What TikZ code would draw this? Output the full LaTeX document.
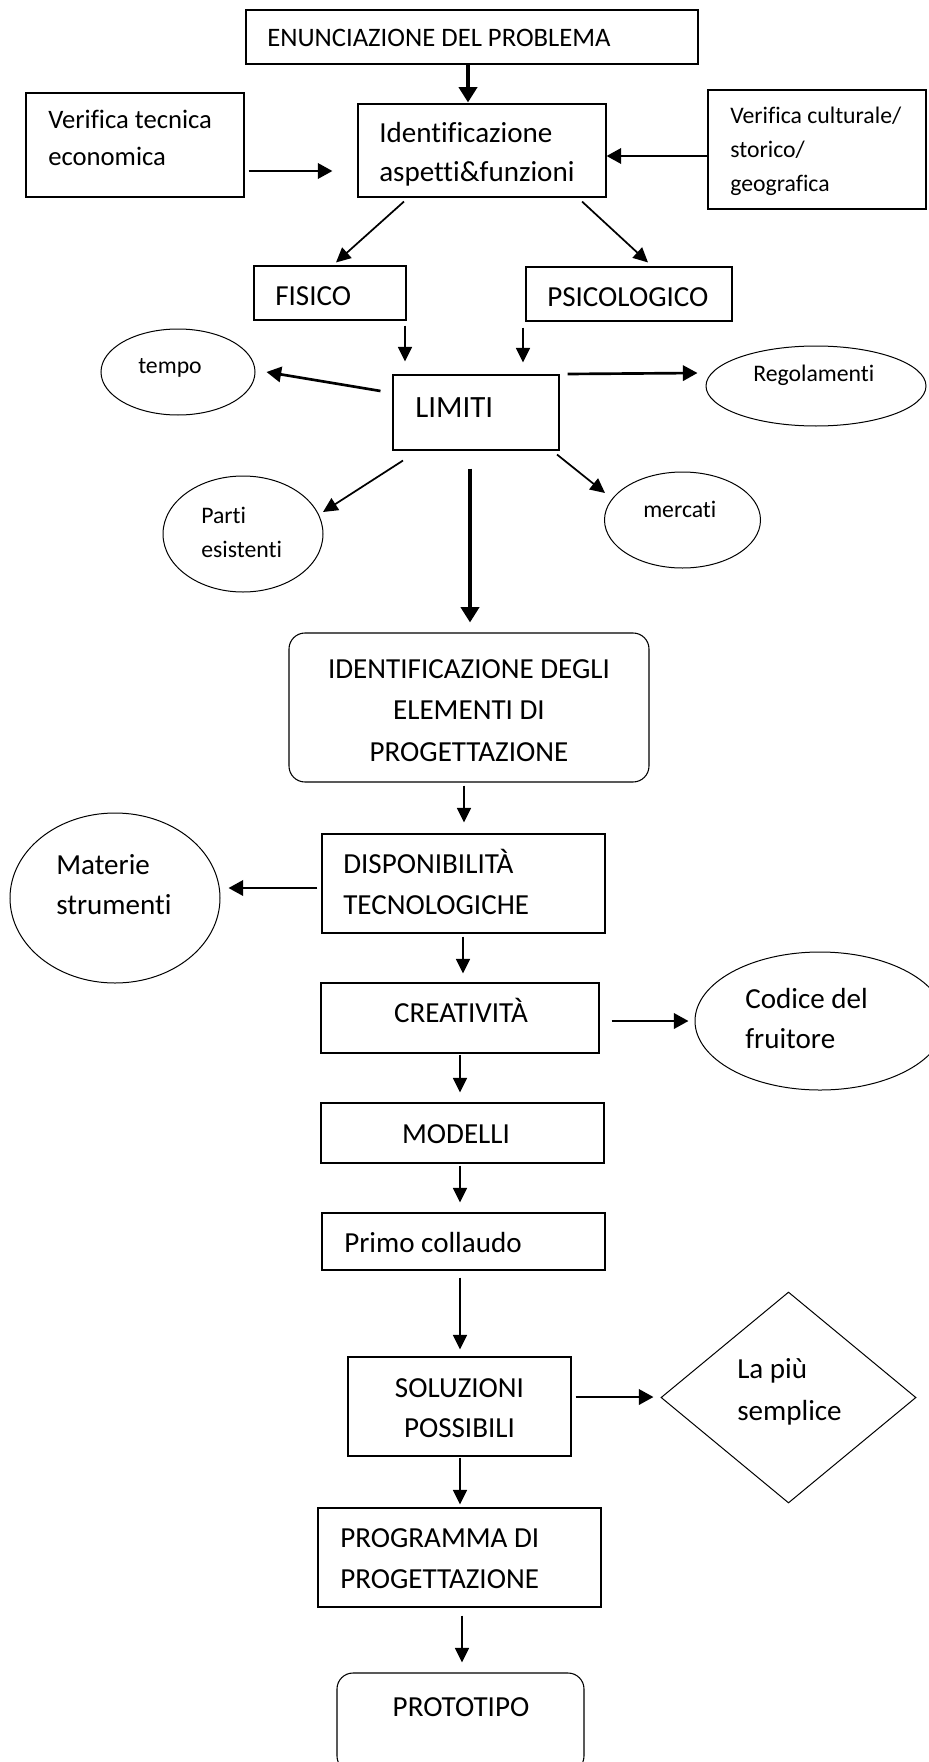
\documentclass[tikz,border=0pt]{standalone}
\usepackage{fontspec}
\setmainfont{Carlito}[Ligatures=NoCommon]
\usetikzlibrary{arrows.meta,shapes.geometric,calc}
\tikzset{
  sz/.style 2 args={minimum width=#1*0.75pt, minimum height=#2*0.75pt},
  boxline/.style={draw=black, line width=0.8pt, inner sep=0pt, rectangle},
  roundbox/.style={boxline, rounded corners=12pt},
  oval/.style={draw=black, line width=0.75pt, inner sep=0pt, ellipse},
  rhombus/.style={draw=black, line width=0.75pt, inner sep=0pt, diamond},
  txt/.style={inner sep=0pt, anchor=base west},
  ctxt/.style={inner sep=0pt, anchor=base},
  fA/.style={font=\fontsize{21.8pt}{26pt}\selectfont},
  fB/.style={font=\fontsize{20pt}{24pt}\selectfont},
  fC/.style={font=\fontsize{17.8pt}{21pt}\selectfont},
  fD/.style={font=\fontsize{23.2pt}{28pt}\selectfont},
  arrA/.style={line width=1.3pt, -{Triangle[length=11pt,width=10.5pt]}},
  arrB/.style={line width=2pt, -{Triangle[length=11pt,width=11.5pt]}},
  arrC/.style={line width=3.4pt, -{Triangle[length=11.5pt,width=13.5pt]}},
}
\begin{document}
\begin{tikzpicture}[x=0.75pt,y=-0.75pt]
\path[fill=white] (0,0) rectangle (928,1762);
\useasboundingbox (0,0) rectangle (928,1762);

% ---- boxes ----
\node[boxline, sz={452}{54}]  (enun)  at (472,37) {};
\node[boxline, sz={218}{104}] (vt)    at (135,145) {};
\node[boxline, sz={248}{93}]  (idf)   at (482,150.5) {};
\node[boxline, sz={218}{119}] (vc)    at (817,149.5) {};
\node[boxline, sz={152}{54}]  (fis)   at (330,293) {};
\node[boxline, sz={206}{54}]  (psi)   at (629,294) {};
\node[boxline, sz={166}{75}]  (lim)   at (476,412.5) {};
\node[oval,    sz={154}{86}]  (tempo) at (178,372) {};
\node[oval,    sz={220}{80}]  (reg)   at (816,386) {};
\node[oval,    sz={160}{116}] (parti) at (243,534) {};
\node[oval,    sz={156}{96}]  (merc)  at (682.5,520) {};
\node[roundbox,sz={360}{149}] (idg)   at (469,707.5) {};
\node[boxline, sz={283}{99}]  (disp)  at (463.5,883.5) {};
\node[oval,    sz={210}{170}] (mat)   at (115,898) {};
\node[boxline, sz={278}{70}]  (crea)  at (460,1018) {};
\node[oval,    sz={250}{138}] (cod)   at (820,1021) {};
\node[boxline, sz={283}{60}]  (mod)   at (462.5,1133) {};
\node[boxline, sz={283}{57}]  (primo) at (463.5,1241.5) {};
\node[boxline, sz={223}{99}]  (sol)   at (459.5,1406.5) {};
\node[rhombus, sz={255}{211}] (lapiu) at (788.5,1397.5) {};
\node[boxline, sz={283}{99}]  (prog)  at (459.5,1557.5) {};
\node[roundbox,sz={247}{99}]  (proto) at (460.5,1722.5) {};

% ---- texts ----
\node[txt,fB] (tenun) at (267,47) {ENUNCIAZIONE DEL PROBLEMA};
\node[txt,fB] (tvt1) at (48,129) {Verifica tecnica};
\node[txt,fB] (tvt2) at (48,166) {economica};
\node[txt,fA] (tidf1) at (379,143) {Identificazione};
\node[txt,fA] (tidf2) at (379,182) {aspetti\&funzioni};
\node[txt,fC] (tvc1) at (730,124) {Verifica culturale/};
\node[txt,fC] (tvc2) at (730,158) {storico/};
\node[txt,fC] (tvc3) at (730,192) {geografica};
\node[txt,fA] (tfis) at (275,305) {FISICO};
\node[txt,fA] (tpsi) at (547,306) {PSICOLOGICO};
\node[txt,fC] (ttempo) at (138,373) {tempo};
\node[txt,fC] (treg) at (753,381) {Regolamenti};
\node[txt,fD] (tlim) at (415,417) {LIMITI};
\node[txt,fC] (tparti1) at (201,523) {Parti};
\node[txt,fC] (tparti2) at (201,557) {esistenti};
\node[txt,fC] (tmerc) at (643,517) {mercati};
\node[ctxt,fA] (tidg1) at (469,678) {IDENTIFICAZIONE DEGLI};
\node[ctxt,fA] (tidg2) at (469,719) {ELEMENTI DI};
\node[ctxt,fA] (tidg3) at (469,761) {PROGETTAZIONE};
\node[txt,fA] (tdisp1) at (343,873) {DISPONIBILITÀ};
\node[txt,fA] (tdisp2) at (343,914) {TECNOLOGICHE};
\node[txt,fA] (tmat1) at (56,874) {Materie};
\node[txt,fA] (tmat2) at (56,914) {strumenti};
\node[ctxt,fA] (tcrea) at (461,1022) {CREATIVITÀ};
\node[txt,fA] (tcod1) at (745,1008) {Codice del};
\node[txt,fA] (tcod2) at (745,1048) {fruitore};
\node[ctxt,fA] (tmod) at (456,1143) {MODELLI};
\node[txt,fA] (tprimo) at (344,1252) {Primo collaudo};
\node[ctxt,fA] (tsol1) at (459.5,1397) {SOLUZIONI};
\node[ctxt,fA] (tsol2) at (459.5,1437) {POSSIBILI};
\node[txt,fA] (tlapiu1) at (737,1378) {La più};
\node[txt,fA] (tlapiu2) at (737,1420) {semplice};
\node[txt,fA] (tprog1) at (340,1547) {PROGRAMMA DI};
\node[txt,fA] (tprog2) at (340,1588) {PROGETTAZIONE};
\node[ctxt,fA] (tproto) at (461,1716) {PROTOTIPO};

% ---- connectors ----
\draw[arrC] ($(enun.south)+(-4,0)$) -- ($(idf.north)+(-14,-1)$);
\draw[arrB] ($(vt.east)+(4,26)$) -- ($(idf.west)+(-25,20.5)$);
\draw[arrB] ($(vc.west)+(0,6.5)$) -- ($(idf.east)+(0,5.5)$);
\draw[arrA] ($(idf.south)+(-78,4)$) -- ($(fis.north)+(6,-3)$);
\draw[arrA] ($(idf.south)+(100,4)$) -- ($(psi.north)+(19,-4)$);
\draw[arrA] ($(fis.south)+(75,5)$) -- ($(lim.north)+(-71,-13)$);
\draw[arrA] ($(psi.south)+(-106,6)$) -- ($(lim.north)+(47,-12)$);
\draw[arrB] ($(lim.west)+(-12,-21.5)$) -- ($(tempo.east)+(11,0)$);
\draw[arrB] ($(lim.east)+(8,-38.5)$) -- ($(reg.west)+(-8,-13)$);
\draw[arrA] ($(lim.south)+(-73,10)$) -- ($(parti.center)+(80,-22)$);
\draw[arrA] ($(lim.south)+(81,4)$) -- ($(merc.center)+(-77.5,-27)$);
\draw[arrC] ($(lim.south)+(-6,18)$) -- ($(idg.north)+(1,-10)$);
\draw[arrA] ($(idg.south)+(-5,3)$) -- ($(disp.north)+(0.5,-11)$);
\draw[arrB] ($(disp.west)+(-4,4.5)$) -- ($(mat.east)+(8,-10)$);
\draw[arrA] ($(disp.south)+(-0.5,3)$) -- ($(crea.north)+(3,-9)$);
\draw[arrB] ($(crea.east)+(12,3)$) -- ($(cod.west)+(-6,0)$);
\draw[arrA] ($(crea.south)+(0,1)$) -- ($(mod.north)+(-2.5,-10)$);
\draw[arrA] ($(mod.south)+(-2.5,2)$) -- ($(primo.north)+(-3.5,-10)$);
\draw[arrA] ($(primo.south)+(-3.5,7)$) -- ($(sol.north)+(0.5,-7)$);
\draw[arrB] ($(sol.east)+(4,-9.5)$) -- ($(lapiu.west)+(-7,-0.5)$);
\draw[arrA] ($(sol.south)+(0.5,1)$) -- ($(prog.north)+(0.5,-3)$);
\draw[arrA] ($(prog.south)+(2.5,8)$) -- ($(proto.north)+(1.5,-10)$);
\end{tikzpicture}
\end{document}
